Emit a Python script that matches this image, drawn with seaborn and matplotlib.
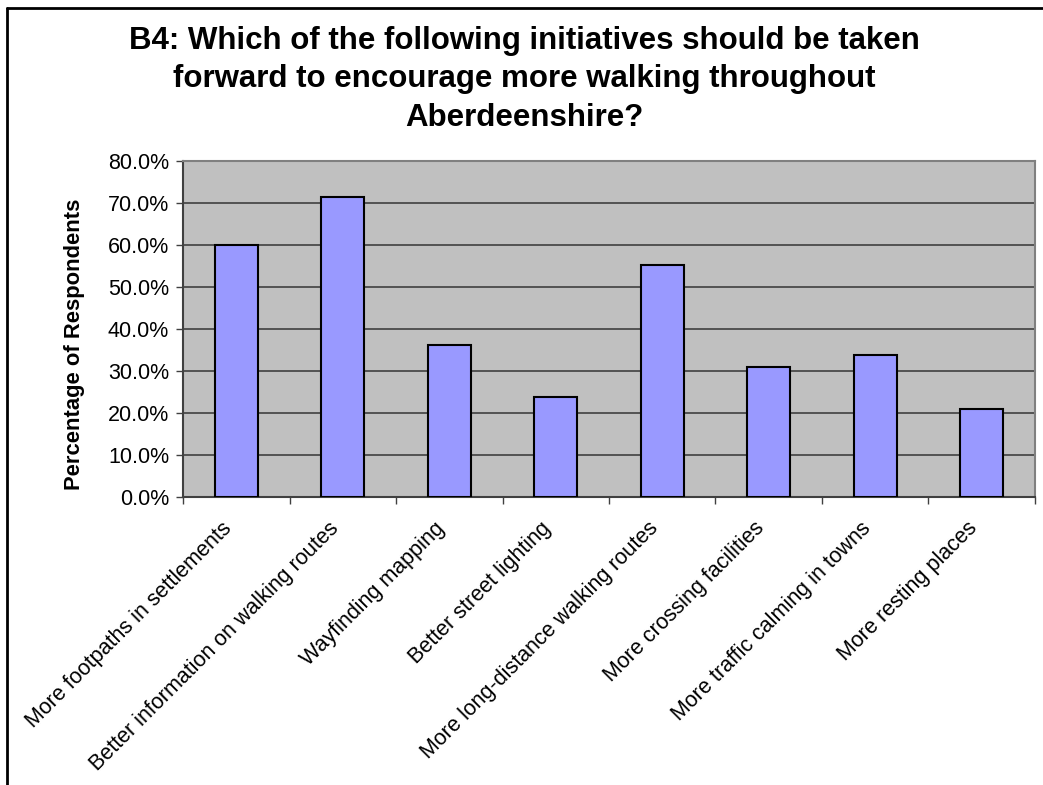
import numpy as np
import pandas as pd
import matplotlib
matplotlib.use("Agg")
import matplotlib.pyplot as plt
from matplotlib.lines import Line2D
from matplotlib.ticker import PercentFormatter
from matplotlib.transforms import ScaledTranslation
import seaborn as sns

# survey results
initiatives = ["More footpaths in settlements", "Better information on walking routes",
               "Wayfinding mapping", "Better street lighting",
               "More long-distance walking routes", "More crossing facilities",
               "More traffic calming in towns", "More resting places"]
pct = [60.0, 71.5, 36.2, 23.8, 55.2, 31.0, 33.9, 21.0]
yticks = [0, 10, 20, 30, 40, 50, 60, 70, 80]

df = pd.DataFrame({"initiative": initiatives, "pct": pct})

sns.set_style("white")
plt.rcParams["font.family"] = ["Liberation Sans", "DejaVu Sans"]
plt.rcParams["text.color"] = "black"
plt.rcParams["xtick.color"] = "black"
plt.rcParams["ytick.color"] = "black"
plt.rcParams["axes.labelcolor"] = "black"

fig = plt.figure(figsize=(10.43, 7.85), dpi=100)
ax = fig.add_axes([0.1755, 0.3669, 0.8168, 0.428])
ax.set_facecolor("#C0C0C0")

sns.barplot(data=df, x="initiative", y="pct", color="#9999FF", edgecolor="black",
            linewidth=1.5, width=0.4, saturation=1, ax=ax, zorder=3)

ax.set_ylim(0, 80)
ax.set_xlim(-0.5, len(initiatives) - 0.5)
ax.set_yticks(yticks)
ax.yaxis.set_major_formatter(PercentFormatter(decimals=1))
ax.yaxis.grid(True, color="#404040", linewidth=1.2, zorder=1)
ax.set_axisbelow(True)
ax.tick_params(axis="y", labelsize=15.5, length=5, width=1, color="#404040", pad=5, left=True)

# category ticks sit between the bars
ax.set_xticks(np.arange(-0.5, len(initiatives), 1), minor=True)
ax.tick_params(axis="x", which="minor", length=5, width=1, color="#404040", bottom=True)
ax.tick_params(axis="x", which="major", length=0, pad=0)
ax.set_xticks(range(len(initiatives)))
ax.set_xticklabels(initiatives, rotation=45, ha="right", rotation_mode="anchor", fontsize=15.5)
shift = ScaledTranslation(-0.15, -0.21, fig.dpi_scale_trans)
for lbl in ax.get_xticklabels():
    lbl.set_transform(lbl.get_transform() + shift)

for side in ["top", "right"]:
    ax.spines[side].set_color("#808080")
    ax.spines[side].set_linewidth(1.5)
for side in ["left", "bottom"]:
    ax.spines[side].set_color("#404040")
    ax.spines[side].set_linewidth(1.5)

ax.set_xlabel("")
ax.set_ylabel("Percentage of Respondents", fontsize=15.8, fontweight="bold")
ax.yaxis.set_label_coords(-0.115, 0.455)

# multi-line text with va="baseline" anchors on the last line
fig.text(0.503, 0.8395, "B4: Which of the following initiatives should be taken\n"
         "forward to encourage more walking throughout\nAberdeenshire?",
         ha="center", va="baseline", fontsize=22.5, fontweight="bold", linespacing=1.37)

# chart frame edges visible in the screenshot
fig.add_artist(Line2D([0.0067, 0.0067], [0, 0.99], color="black", linewidth=2))
fig.add_artist(Line2D([0.0067, 1], [0.99, 0.99], color="black", linewidth=2))

fig.savefig("out.png", dpi=100)
